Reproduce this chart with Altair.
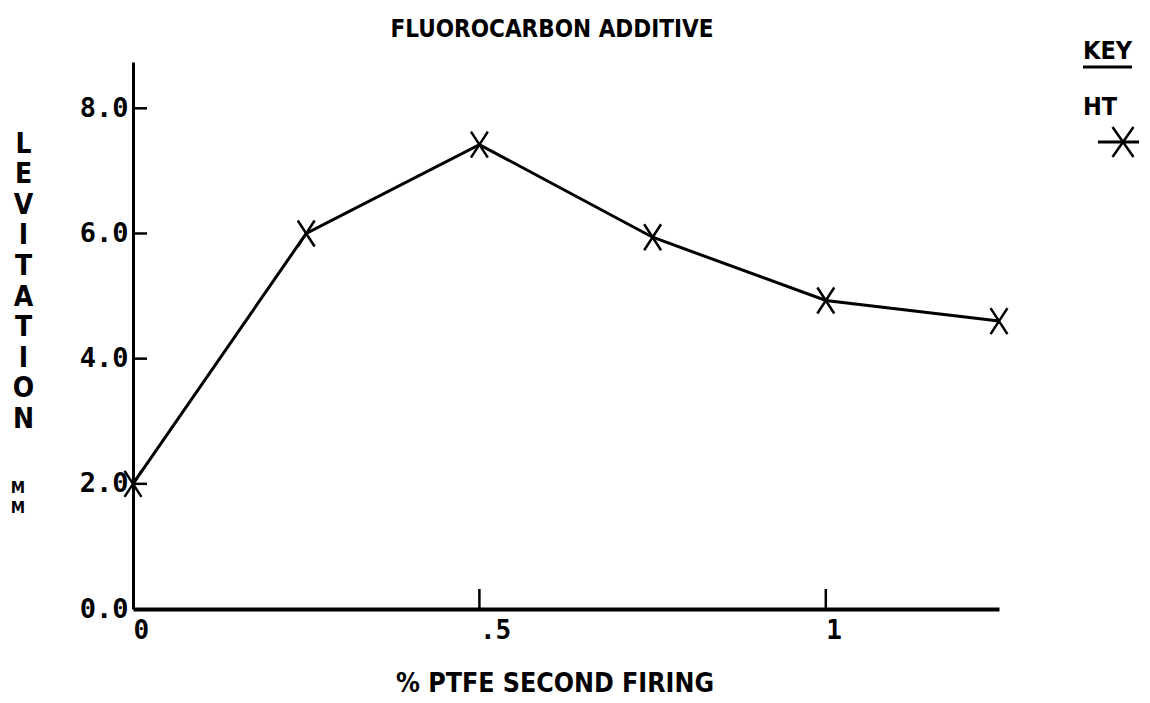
import altair as alt
import pandas as pd

# Data
ptfe = [0.0, 0.25, 0.5, 0.75, 1.0, 1.25]
levitation = [2.0, 6.0, 7.42, 5.94, 4.93, 4.6]
series = ["HT"] * len(ptfe)

y_ticks = [0.0, 2.0, 4.0, 6.0, 8.0]
x_ticks = [0.0, 0.5, 1.0]
x_tick_marks = [0.5, 1.0]
y_tick_marks = [2.0, 4.0, 6.0, 8.0]

title_text = "FLUOROCARBON ADDITIVE"
x_title_text = "% PTFE SECOND FIRING"
y_title_letters = list("LEVITATION")
unit_letters = ["M", "M"]
key_title = "KEY"
key_label = "HT"

MONO = "DejaVu Sans Mono"
NARROW = "DejaVu Sans Condensed, sans-serif"
W, H = 866, 547
X_SHAPE = "M -0.65 -1 L 0.65 1 M -0.65 1 L 0.65 -1"
X_SHAPE_KEY = "M -0.7 -1 L 0.7 1 M -0.7 1 L 0.7 -1"

df = pd.DataFrame({"ptfe": ptfe, "lev": levitation, "series": series})
xs = alt.Scale(domain=[0, 1.25], nice=False, zero=False)
ys = alt.Scale(domain=[0, 8.74], nice=False, zero=False)

xenc = alt.X(
    "ptfe:Q", scale=xs,
    axis=alt.Axis(
        values=x_ticks, tickSize=0, grid=False, domainColor="black", domainWidth=4,
        labelExpr="datum.value == 0.5 ? '.5' : format(datum.value, 'd')",
        labelFont=MONO, labelFontWeight="bold", labelFontSize=26, labelColor="black",
        labelPadding=8, labelAlign="left", labelOffset=0, title=None,
    ),
)
yenc = alt.Y(
    "lev:Q", scale=ys,
    axis=alt.Axis(
        values=y_ticks, tickSize=0, grid=False, domainColor="black", domainWidth=3,
        format=".1f",
        labelFont=MONO, labelFontWeight="bold", labelFontSize=27, labelColor="black",
        labelPadding=5,
        title=y_title_letters, titleAngle=0, titleFont=NARROW, titleFontWeight="bold",
        titleFontSize=28, titleColor="black", titleLineHeight=30.6,
        titleX=-110, titleY=68, titleBaseline="top", titleAlign="center",
    ),
)

line = alt.Chart(df).mark_line(color="black", strokeWidth=3).encode(x=xenc, y=yenc)
pts = alt.Chart(df).mark_point(
    shape=X_SHAPE, filled=False, stroke="black", strokeWidth=2.5, size=676, opacity=1,
).encode(x=alt.X("ptfe:Q", scale=xs), y=alt.Y("lev:Q", scale=ys))

ytm = alt.Chart(pd.DataFrame({"v": y_tick_marks})).mark_rule(
    color="black", strokeWidth=2.5
).encode(y=alt.Y("v:Q", scale=ys), x=alt.value(0), x2=alt.value(14))

xtm = alt.Chart(pd.DataFrame({"v": x_tick_marks})).mark_rule(
    color="black", strokeWidth=2.5
).encode(x=alt.X("v:Q", scale=xs), y=alt.value(H), y2=alt.value(H - 20))


def label(text, x, y, size, font=NARROW, align="center"):
    return alt.Chart(pd.DataFrame({"t": [text]})).mark_text(
        font=font, fontWeight="bold", fontSize=size, align=align,
        baseline="alphabetic", color="black",
    ).encode(x=alt.value(x), y=alt.value(y), text="t:N")


title_mark = label(title_text, 419, -25, 24)
x_title_mark = label(x_title_text, 422, 630, 26.5)
unit_m1 = label(unit_letters[0], -115, 431, 16)
unit_m2 = label(unit_letters[1], -115, 451, 16)

# Key (legend) drawn as annotations
key_txt = label(key_title, 950, -3, 25, align="left")
key_ul = alt.Chart(pd.DataFrame({"t": [key_title]})).mark_rule(
    color="black", strokeWidth=3
).encode(x=alt.value(950), x2=alt.value(999), y=alt.value(5))
ht_txt = label(key_label, 950, 53, 25, align="left")
key_line = alt.Chart(pd.DataFrame({"t": [key_label]})).mark_rule(
    color="black", strokeWidth=3
).encode(x=alt.value(965), x2=alt.value(1014), y=alt.value(80))
key_pt = alt.Chart(pd.DataFrame({"t": [key_label]})).mark_point(
    shape=X_SHAPE_KEY, filled=False, stroke="black", strokeWidth=2.5, size=900, opacity=1,
).encode(x=alt.value(990), y=alt.value(80))

chart = alt.layer(
    line, pts, ytm, xtm, title_mark, x_title_mark, unit_m1, unit_m2,
    key_txt, key_ul, ht_txt, key_line, key_pt,
).properties(
    width=W, height=H,
    autosize=alt.AutoSizeParams(type="none"),
    padding={"left": 125, "top": 54, "right": 140, "bottom": 90},
    background="white",
).configure_view(strokeWidth=0)

chart.save("out.html", embed_options={"renderer": "svg", "actions": False})
